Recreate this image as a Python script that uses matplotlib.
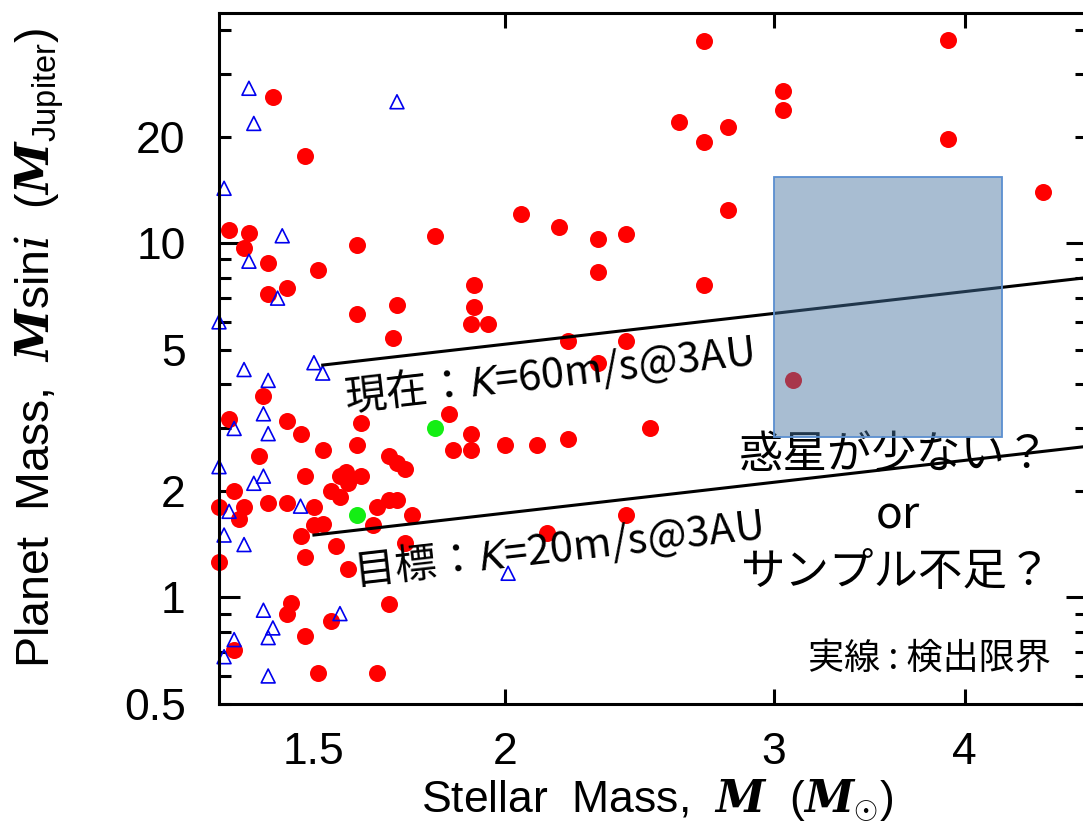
import matplotlib
matplotlib.use("Agg")
import matplotlib.pyplot as plt
from matplotlib.patches import Rectangle

plt.rcParams['font.family'] = ['Liberation Sans', 'DejaVu Sans']
plt.rcParams['mathtext.fontset'] = 'custom'
plt.rcParams['mathtext.rm'] = 'Liberation Sans'
plt.rcParams['mathtext.it'] = 'DejaVu Serif:italic'
plt.rcParams['mathtext.bf'] = 'DejaVu Serif:bold'
plt.rcParams['mathtext.bfit'] = 'DejaVu Serif:italic:bold'
JP = 'Noto Sans CJK JP'

# 惑星 (恒星質量 [Msun], 惑星質量 Msini [MJup])
red_mstar = [1.41, 1.48, 1.32, 1.36, 1.35, 1.60, 1.40, 1.51, 1.44, 1.40, 1.70, 1.60, 1.69,
             1.39, 1.32, 1.44, 1.47, 1.61, 1.60, 1.52, 1.38, 1.68, 1.70, 1.72, 1.48, 1.575,
             1.56, 1.58, 1.61, 1.54, 1.56, 1.33, 1.30, 1.35, 1.34, 1.40, 1.44, 1.50, 1.50,
             1.52, 1.65, 1.64, 1.68, 1.70, 1.74, 1.47, 1.55, 1.48, 1.30, 1.58, 1.72,
             1.45, 1.44, 1.54, 1.68, 1.48, 1.33, 1.51, 1.65,
             1.80, 2.05, 2.17, 2.30, 2.40, 2.30, 1.91, 1.91, 1.90, 1.95, 2.20, 2.40, 2.30,
             1.84, 1.90, 1.85, 1.90, 2.00, 2.10, 2.20, 2.49, 2.40, 2.13,
             2.70, 3.90, 3.04, 3.04, 2.60, 2.80, 2.70, 3.90, 4.50, 2.80, 2.70, 3.09]
red_mp = [25.9, 17.6, 10.9, 10.7, 9.7, 9.9, 8.8, 8.4, 7.5, 7.2, 6.7, 6.3, 5.4,
          3.7, 3.2, 3.15, 2.9, 3.1, 2.7, 2.6, 2.5, 2.5, 2.4, 2.3, 2.2, 2.26,
          2.2, 2.1, 2.2, 2.0, 1.92, 2.0, 1.80, 1.80, 1.67, 1.85, 1.85, 1.80, 1.60,
          1.61, 1.80, 1.60, 1.89, 1.89, 1.71, 1.49, 1.40, 1.30, 1.26, 1.20, 1.42,
          0.965, 0.90, 0.86, 0.957, 0.78, 0.71, 0.61, 0.61,
          10.5, 12.1, 11.1, 10.3, 10.6, 8.3, 7.6, 6.6, 5.9, 5.9, 5.3, 5.3, 4.6,
          3.3, 2.9, 2.6, 2.6, 2.7, 2.7, 2.8, 3.0, 1.71, 1.52,
          37.2, 37.5, 26.9, 23.8, 22.0, 21.3, 19.3, 19.7, 14.0, 12.4, 7.6, 4.1]

tri_mstar = [1.36, 1.70, 1.37, 1.31, 1.43, 1.36, 1.42, 1.30, 1.50, 1.35, 1.52, 1.40,
             1.39, 1.33, 1.40, 1.30, 1.39, 1.37, 1.47, 1.32, 1.31, 1.35, 2.01,
             1.39, 1.56, 1.41, 1.40, 1.33, 1.31, 1.40]
tri_mp = [27.4, 25.1, 21.8, 14.3, 10.5, 8.9, 7.0, 6.0, 4.6, 4.4, 4.3, 4.1,
          3.3, 3.0, 2.9, 2.34, 2.2, 2.1, 1.81, 1.75, 1.50, 1.41, 1.17,
          0.92, 0.90, 0.82, 0.77, 0.76, 0.68, 0.60]

green_mstar = [1.60, 1.80]
green_mp = [1.71, 3.0]

# 検出限界線
lim60_mstar = [1.52, 4.81]
lim60_mp = [4.53, 8.0]
lim20_mstar = [1.50, 4.81]
lim20_mp = [1.50, 2.67]

# 惑星の少ない領域
box_mstar = [3.0, 4.23]
box_mp = [2.84, 15.4]

xtick_major = [2, 3, 4]
ytick_major = [1, 10]
ytick_minor = [0.5, 0.6, 0.7, 0.8, 0.9, 2, 3, 4, 5, 6, 7, 8, 9, 20, 30, 40]
ytick_minor_lab = ['0.5', '', '', '', '', '2', '', '', '5', '', '', '', '', '20', '', '']

fig = plt.figure(figsize=(10.83, 8.26), dpi=100)
ax = fig.add_axes([219 / 1083, 122 / 826, 868 / 1083, 691 / 826])
ax.set_xscale('log')
ax.set_yscale('log')
ax.set_xlim(1.30, 4.81)
ax.set_ylim(0.5, 44.7)

ax.scatter(red_mstar, red_mp, s=150, c='#ff0000', linewidths=0, zorder=2, clip_on=False)
ax.scatter(green_mstar, green_mp, s=150, c='#14ee14', linewidths=0, zorder=2)
ax.scatter(tri_mstar, tri_mp, s=100, marker='^', facecolors='none',
           edgecolors='#0000ee', linewidths=1.2, zorder=2, clip_on=False)

ax.plot(lim60_mstar, lim60_mp, color='black', lw=2.2, zorder=3)
ax.plot(lim20_mstar, lim20_mp, color='black', lw=2.2, zorder=3)

bw = box_mstar[1] - box_mstar[0]
bh = box_mp[1] - box_mp[0]
ax.add_patch(Rectangle((box_mstar[0], box_mp[0]), bw, bh, facecolor='#4673a0',
                       alpha=0.47, edgecolor='none', zorder=5))
ax.add_patch(Rectangle((box_mstar[0], box_mp[0]), bw, bh, facecolor='none',
                       edgecolor='#5b8fd0', lw=1.3, zorder=5))

# 目盛り
ax.set_xticks(xtick_major, [str(v) for v in xtick_major])
ax.set_xticks([1.5], ['1.5'], minor=True)
ax.set_yticks(ytick_major, [str(v) for v in ytick_major])
ax.set_yticks(ytick_minor, ytick_minor_lab, minor=True)
ax.tick_params(which='both', direction='in', top=True, right=True, width=2.2,
               labelsize=32, color='black')
ax.tick_params(axis='x', which='major', length=11, pad=20)
ax.tick_params(axis='x', which='minor', length=0, pad=20)
ax.tick_params(axis='y', which='major', length=15, pad=24)
ax.tick_params(axis='y', which='minor', length=8.5, pad=24)
for sp in ax.spines.values():
    sp.set_linewidth(2.2)

fig.text(657 / 1083, (826 - 812) / 826,
         r'Stellar  Mass,  $\mathbfit{M}$  $(\mathbfit{M}_{\odot})$',
         ha='center', va='baseline', fontsize=32)
fig.text(50 / 1083, (826 - 348) / 826,
         r'Planet  Mass,  $\mathbfit{M}$sin$i$  $(\mathbfit{M}_{\mathrm{Jupiter}})$',
         ha='center', va='baseline', rotation=90, rotation_mode='anchor', fontsize=33.5)

# 注記
ax.text(0.1458, 0.424, '現在：$K$=60m/s@3AU', transform=ax.transAxes, rotation=6.5,
        rotation_mode='anchor', ha='left', va='baseline', fontsize=30,
        family=JP, math_fontfamily='stixsans', zorder=4)
ax.text(0.157, 0.172, '目標：$K$=20m/s@3AU', transform=ax.transAxes, rotation=6.5,
        rotation_mode='anchor', ha='left', va='baseline', fontsize=30,
        family=JP, math_fontfamily='stixsans', zorder=4)
ax.text(0.778, 0.360, '惑星が少ない？', transform=ax.transAxes, ha='center', va='center',
        fontsize=32, family=JP, zorder=4)
ax.text(0.782, 0.2735, 'or', transform=ax.transAxes, ha='center', va='center',
        fontsize=32, family=JP, zorder=4)
ax.text(0.780, 0.191, 'サンプル不足？', transform=ax.transAxes, ha='center', va='center',
        fontsize=32, family=JP, zorder=4)
ax.text(0.818, 0.065, '実線 : 検出限界', transform=ax.transAxes, ha='center', va='center',
        fontsize=26, family=JP, zorder=4)

fig.savefig('out.png', dpi=100)
